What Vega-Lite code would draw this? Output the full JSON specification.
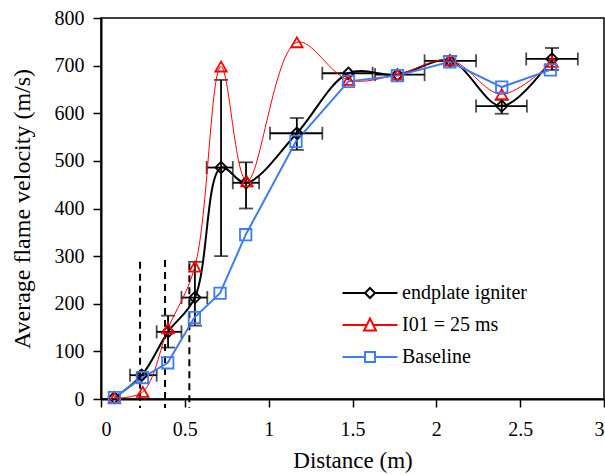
{
  "$schema": "https://vega.github.io/schema/vega-lite/v6.json",
  "width": 503,
  "height": 381,
  "autosize": "none",
  "padding": {"left": 101, "top": 18, "right": 2, "bottom": 76},
  "background": "white",
  "config": {
    "font": "Liberation Serif",
    "view": {"stroke": "black", "strokeWidth": 1.5},
    "axis": {
      "grid": false, "domainColor": "black", "domainWidth": 2,
      "tickColor": "black", "tickWidth": 1.5, "tickSize": 8,
      "labelFont": "Liberation Serif", "labelFontSize": 20, "labelColor": "black",
      "titleFont": "Liberation Serif", "titleFontSize": 23, "titleFontWeight": "normal", "titleColor": "black"
    },
    "legend": {"labelFont": "Liberation Serif", "labelFontSize": 20, "labelColor": "black", "padding": 0}
  },
  "datasets": {
    "pts": [
      {"series": "endplate igniter", "d": 0.08, "v": 3},
      {"series": "endplate igniter", "d": 0.243, "v": 50, "xlo": 0.173, "xhi": 0.332},
      {"series": "endplate igniter", "d": 0.40, "v": 141, "xlo": 0.332, "xhi": 0.48, "ylo": 108, "yhi": 175},
      {"series": "endplate igniter", "d": 0.56, "v": 213, "xlo": 0.48, "xhi": 0.634, "ylo": 154, "yhi": 288},
      {"series": "endplate igniter", "d": 0.716, "v": 486, "xlo": 0.63, "xhi": 0.786, "ylo": 300, "yhi": 670},
      {"series": "endplate igniter", "d": 0.865, "v": 454, "xlo": 0.786, "xhi": 0.943, "ylo": 400, "yhi": 497},
      {"series": "endplate igniter", "d": 1.168, "v": 558, "xlo": 1.008, "xhi": 1.32, "ylo": 523, "yhi": 590},
      {"series": "endplate igniter", "d": 1.476, "v": 684, "xlo": 1.32, "xhi": 1.62},
      {"series": "endplate igniter", "d": 1.768, "v": 681, "xlo": 1.635, "xhi": 1.93},
      {"series": "endplate igniter", "d": 2.082, "v": 710, "xlo": 1.93, "xhi": 2.237, "ylo": 700, "yhi": 720},
      {"series": "endplate igniter", "d": 2.39, "v": 615, "xlo": 2.237, "xhi": 2.54, "ylo": 599, "yhi": 628},
      {"series": "endplate igniter", "d": 2.69, "v": 714, "xlo": 2.536, "xhi": 2.844, "ylo": 691, "yhi": 737},
      {"series": "I01 = 25 ms", "d": 0.08, "v": 2},
      {"series": "I01 = 25 ms", "d": 0.249, "v": 15},
      {"series": "I01 = 25 ms", "d": 0.40, "v": 148},
      {"series": "I01 = 25 ms", "d": 0.56, "v": 278},
      {"series": "I01 = 25 ms", "d": 0.716, "v": 698},
      {"series": "I01 = 25 ms", "d": 0.87, "v": 457},
      {"series": "I01 = 25 ms", "d": 1.168, "v": 749},
      {"series": "I01 = 25 ms", "d": 1.476, "v": 670},
      {"series": "I01 = 25 ms", "d": 1.768, "v": 681},
      {"series": "I01 = 25 ms", "d": 2.08, "v": 712},
      {"series": "I01 = 25 ms", "d": 2.39, "v": 640},
      {"series": "I01 = 25 ms", "d": 2.69, "v": 708},
      {"series": "Baseline", "d": 0.08, "v": 3},
      {"series": "Baseline", "d": 0.247, "v": 45},
      {"series": "Baseline", "d": 0.398, "v": 76},
      {"series": "Baseline", "d": 0.557, "v": 171},
      {"series": "Baseline", "d": 0.71, "v": 222},
      {"series": "Baseline", "d": 0.863, "v": 345},
      {"series": "Baseline", "d": 1.163, "v": 541},
      {"series": "Baseline", "d": 1.476, "v": 667},
      {"series": "Baseline", "d": 1.768, "v": 679},
      {"series": "Baseline", "d": 2.08, "v": 708},
      {"series": "Baseline", "d": 2.39, "v": 655},
      {"series": "Baseline", "d": 2.68, "v": 691}
    ],
    "dash": [
      {"d": 0.233, "top": 288, "bot": -19},
      {"d": 0.382, "top": 292, "bot": -19},
      {"d": 0.527, "top": 285, "bot": -19}
    ]
  },
  "layer": [
    {
      "data": {"name": "dash"},
      "mark": {"type": "rule", "strokeDash": [7, 5], "strokeWidth": 2, "color": "black", "clip": false},
      "encoding": {
        "x": {"field": "d", "type": "quantitative", "scale": {"domain": [0, 3], "nice": false},
              "axis": {"values": [0, 0.5, 1, 1.5, 2, 2.5, 3], "format": "~g", "title": "Distance (m)", "labelPadding": 12, "titlePadding": 10}},
        "y": {"field": "top", "type": "quantitative", "scale": {"domain": [0, 800], "nice": false},
              "axis": {"values": [0, 100, 200, 300, 400, 500, 600, 700, 800], "format": "d", "title": "Average flame velocity (m/s)", "labelPadding": 9, "titlePadding": 20, "titleFontSize": 24}},
        "y2": {"field": "bot"}
      }
    },
    {
      "data": {"name": "pts"},
      "transform": [{"filter": "isValid(datum.xlo)"}],
      "mark": {"type": "rule", "color": "black", "strokeWidth": 1.8},
      "encoding": {
        "x": {"field": "xlo", "type": "quantitative"},
        "x2": {"field": "xhi"},
        "y": {"field": "v", "type": "quantitative"}
      }
    },
    {
      "data": {"name": "pts"},
      "transform": [{"filter": "isValid(datum.ylo)"}],
      "mark": {"type": "rule", "color": "black", "strokeWidth": 1.8},
      "encoding": {
        "x": {"field": "d", "type": "quantitative"},
        "y": {"field": "ylo", "type": "quantitative"},
        "y2": {"field": "yhi"}
      }
    },
    {
      "data": {"name": "pts"},
      "transform": [{"filter": "isValid(datum.xlo)"}, {"fold": ["xlo", "xhi"], "as": ["k", "xe"]}],
      "mark": {"type": "tick", "orient": "vertical", "color": "black", "size": 13, "thickness": 1.8},
      "encoding": {
        "x": {"field": "xe", "type": "quantitative"},
        "y": {"field": "v", "type": "quantitative"}
      }
    },
    {
      "data": {"name": "pts"},
      "transform": [{"filter": "isValid(datum.ylo)"}, {"fold": ["ylo", "yhi"], "as": ["k", "ye"]}],
      "mark": {"type": "tick", "orient": "horizontal", "color": "black", "size": 14, "thickness": 1.8},
      "encoding": {
        "x": {"field": "d", "type": "quantitative"},
        "y": {"field": "ye", "type": "quantitative"}
      }
    },
    {
      "data": {"name": "pts"},
      "transform": [{"filter": "datum.series === 'endplate igniter'"}],
      "mark": {"type": "line", "interpolate": "catmull-rom", "color": "#000000", "strokeWidth": 2},
      "encoding": {
        "x": {"field": "d", "type": "quantitative"},
        "y": {"field": "v", "type": "quantitative"}
      }
    },
    {
      "data": {"name": "pts"},
      "transform": [{"filter": "datum.series === 'I01 = 25 ms'"}],
      "mark": {"type": "line", "interpolate": "catmull-rom", "color": "#ff0000", "strokeWidth": 1},
      "encoding": {
        "x": {"field": "d", "type": "quantitative"},
        "y": {"field": "v", "type": "quantitative"}
      }
    },
    {
      "data": {"name": "pts"},
      "transform": [{"filter": "datum.series === 'Baseline'"}],
      "mark": {"type": "line", "color": "#3d7bf7", "strokeWidth": 2},
      "encoding": {
        "x": {"field": "d", "type": "quantitative"},
        "y": {"field": "v", "type": "quantitative"}
      }
    },
    {
      "data": {"name": "pts"},
      "transform": [{"filter": "datum.series === 'endplate igniter'"}],
      "mark": {"type": "point", "shape": "diamond", "filled": false, "size": 130, "strokeWidth": 1.8, "opacity": 1},
      "encoding": {
        "x": {"field": "d", "type": "quantitative"},
        "y": {"field": "v", "type": "quantitative"},
        "stroke": {"field": "series", "type": "nominal",
                  "scale": {"domain": ["endplate igniter", "I01 = 25 ms", "Baseline"], "range": ["#000000", "#ff0000", "#3d7bf7"]},
                  "legend": {
                    "orient": "none", "legendX": 258, "legendY": 264, "title": null,
                    "labelFont": "Liberation Serif", "labelFontSize": 20, "labelColor": "black",
                    "symbolSize": 400, "symbolStrokeWidth": 2, "labelOffset": 21, "rowPadding": 11,
                    "symbolType": {"expr": "datum.value === 'Baseline' ? 'M-2.75,0H-0.5M0.5,0H2.75M-0.5,-0.5H0.5V0.5H-0.5Z' : datum.value === 'I01 = 25 ms' ? 'M-2.75,0H-0.33M0.33,0H2.75M0,-0.65L0.6,0.55L-0.6,0.55Z' : 'M-2.75,0H-0.5M0.5,0H2.75M0,-0.5L0.5,0L0,0.5L-0.5,0Z'"}
                  }}
      }
    },
    {
      "data": {"name": "pts"},
      "transform": [{"filter": "datum.series === 'I01 = 25 ms'"}],
      "mark": {"type": "point", "shape": "triangle-up", "filled": false, "size": 130, "strokeWidth": 1.8, "opacity": 1},
      "encoding": {
        "x": {"field": "d", "type": "quantitative"},
        "y": {"field": "v", "type": "quantitative"},
        "stroke": {"field": "series", "type": "nominal"}
      }
    },
    {
      "data": {"name": "pts"},
      "transform": [{"filter": "datum.series === 'Baseline'"}],
      "mark": {"type": "point", "shape": "square", "filled": false, "size": 130, "strokeWidth": 1.8, "opacity": 1},
      "encoding": {
        "x": {"field": "d", "type": "quantitative"},
        "y": {"field": "v", "type": "quantitative"},
        "stroke": {"field": "series", "type": "nominal"}
      }
    }
  ]
}
